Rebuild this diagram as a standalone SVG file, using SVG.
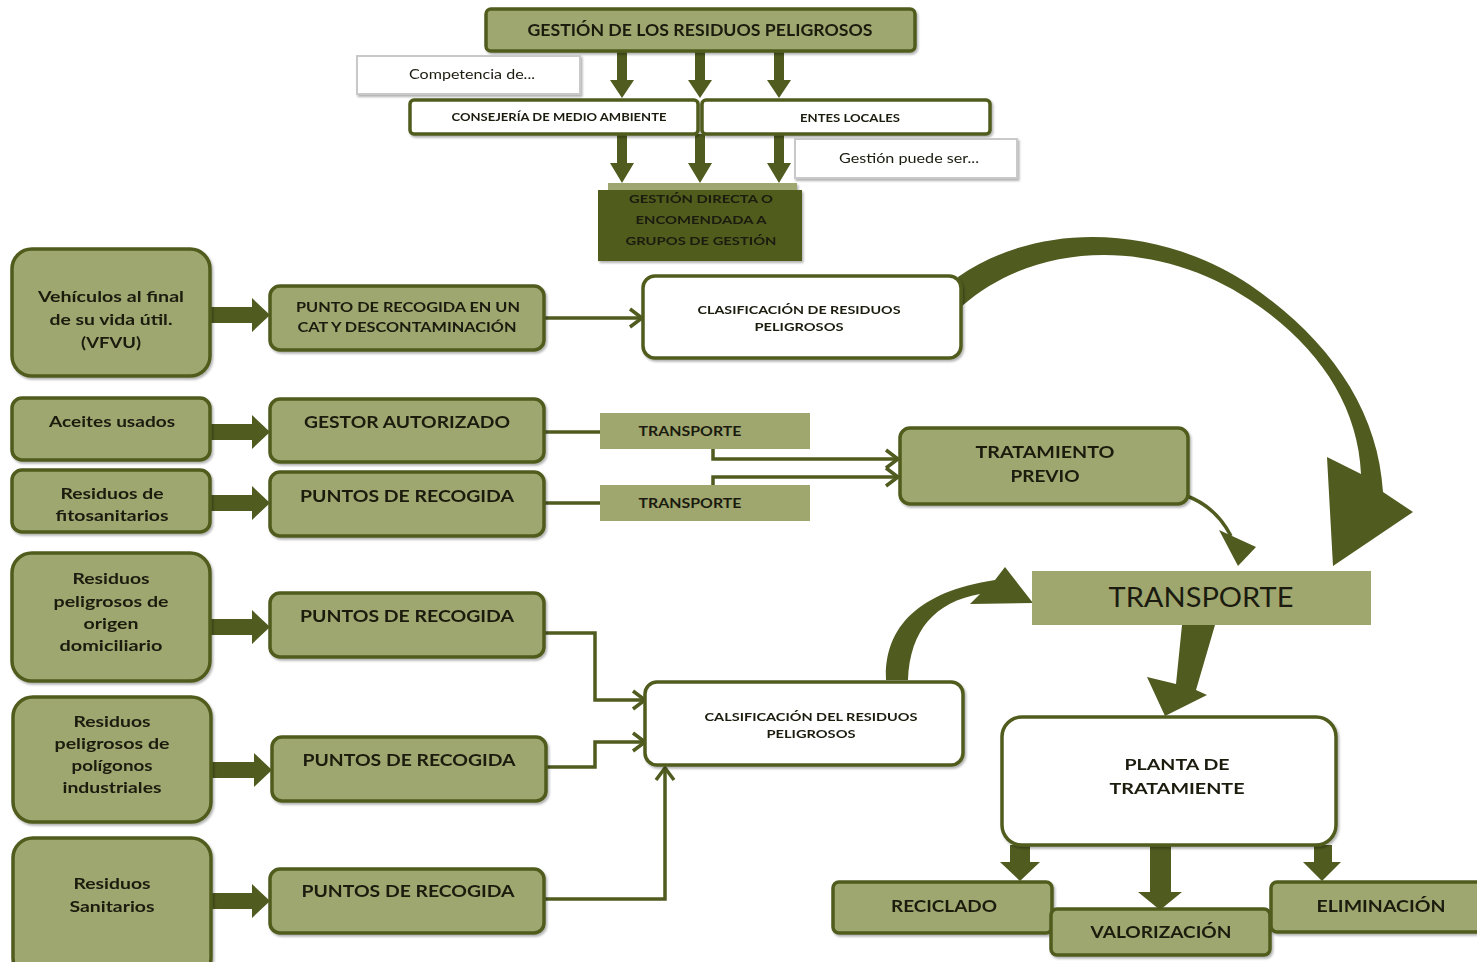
<svg xmlns="http://www.w3.org/2000/svg" width="1477" height="962" viewBox="0 0 1477 962">
  <defs>
    <style>
      .olive { fill: #9fa76f; stroke: #505b1f; stroke-width: 3.5; }
      .white { fill: #ffffff; stroke: #505b1f; stroke-width: 3.5; }
      .note { fill: #ffffff; stroke: #c9c9c9; stroke-width: 2; }
      .flat { fill: #9fa76f; }
      .dark { fill: #505b1f; }
      .t { font-family: Lato, "Liberation Sans", sans-serif; font-weight: 700; fill: #1b1b10; text-anchor: middle; }
      .n { font-family: Lato, "Liberation Sans", sans-serif; font-weight: 400; fill: #1b1b10; text-anchor: middle; }
      .wire { fill: none; stroke: #505b1f; stroke-width: 3.5; }
      .bold { fill: #505b1f; stroke: none; }
    </style>
    <filter id="shadow" x="-10%" y="-10%" width="130%" height="140%">
      <feDropShadow dx="1.5" dy="2" stdDeviation="1.2" flood-color="#000" flood-opacity="0.3"/>
    </filter>
    <marker id="chev" markerUnits="userSpaceOnUse" markerWidth="18" markerHeight="22" refX="15" refY="11" orient="auto">
      <path d="M3 2 L15 11 L3 20" fill="none" stroke="#505b1f" stroke-width="3.5"/>
    </marker>
  </defs>

  <!-- connectors -->
  <g id="connectors">
    <!-- vertical arrows under the title box -->
    <path class="bold" d="M617 51 H627 V80 H634 L622 98 L610 80 H617 Z"/>
    <path class="bold" d="M695 51 H705 V80 H712 L700 98 L688 80 H695 Z"/>
    <path class="bold" d="M774 51 H784 V80 H791 L779 98 L767 80 H774 Z"/>
    <!-- vertical arrows into the management box -->
    <path class="bold" d="M617 134 H627 V163 H634 L622 183 L610 163 H617 Z"/>
    <path class="bold" d="M695 134 H705 V163 H712 L700 183 L688 163 H695 Z"/>
    <path class="bold" d="M774 134 H784 V163 H791 L779 183 L767 163 H774 Z"/>

    <!-- block arrows from waste sources -->
    <path class="bold" d="M210 307 H252 V298 L270 315 L252 332 V323 H210 Z"/>
    <path class="bold" d="M210 424 H252 V415 L270 432 L252 449 V440 H210 Z"/>
    <path class="bold" d="M210 495 H252 V486 L270 503 L252 520 V511 H210 Z"/>
    <path class="bold" d="M210 619 H252 V610 L270 627 L252 644 V635 H210 Z"/>
    <path class="bold" d="M211 762 H254 V753 L272 770 L254 787 V778 H211 Z"/>
    <path class="bold" d="M211 893 H252 V884 L270 901 L252 918 V909 H211 Z"/>

    <!-- thin connectors -->
    <path class="wire" d="M545 318 H642" marker-end="url(#chev)"/>
    <path class="wire" d="M545 432 H600"/>
    <path class="wire" d="M545 503 H600"/>
    <path class="wire" d="M713 449 V459 H898" marker-end="url(#chev)"/>
    <path class="wire" d="M713 485 V477 H898" marker-end="url(#chev)"/>
    <path class="wire" d="M545 633 H595 V700 H645" marker-end="url(#chev)"/>
    <path class="wire" d="M547 767 H595 V742 H645" marker-end="url(#chev)"/>
    <path class="wire" d="M545 899 H665 V768" marker-end="url(#chev)"/>

    <!-- large curved arrow: classification to transport -->
    <path class="bold" d="M958 277 C1040 220 1160 225 1250 285 C1330 340 1378 410 1383 492 L1413 512 L1333 566 L1327 457 L1361 474 C1358 405 1318 345 1250 300 C1160 240 1040 238 962 306 Z"/>
    <!-- pre-treatment to transport -->
    <path class="wire" d="M1187 496 Q1216 507 1231 536" stroke-width="4.5"/>
    <path class="bold" d="M1219 530 L1256 547 L1238 566 Z"/>
    <!-- second classification to transport -->
    <path class="bold" d="M886 680 C884 630 915 592 995 580 L1005 567 L1033 603 L970 604 L980 594 C935 602 910 630 908 680 Z"/>
    <!-- transport to treatment plant -->
    <path class="bold" d="M1182 625 L1215 625 L1196 690 L1207 695 L1165 716 L1147 677 L1176 684 Z"/>
    <!-- treatment plant outputs -->
    <path class="bold" d="M1010 845 H1030 V862 H1040 L1020 881 L1000 862 H1010 Z"/>
    <path class="bold" d="M1150 845 H1171 V892 H1182 L1160 910 L1138 892 H1150 Z"/>
    <path class="bold" d="M1314 845 H1332 V862 H1341 L1322 881 L1303 862 H1314 Z"/>
  </g>

  <!-- top management chain -->
  <g id="gestion-residuos" filter="url(#shadow)">
    <rect class="olive" x="486" y="9" width="429" height="42" rx="5"/>
    <text class="t" x="700" y="36" font-size="17" textLength="345" lengthAdjust="spacingAndGlyphs">GESTIÓN DE LOS RESIDUOS PELIGROSOS</text>
  </g>
  <g id="competencia" filter="url(#shadow)">
    <rect class="note" x="357" y="56" width="223" height="38"/>
    <text class="n" x="472" y="79" font-size="12.5" textLength="126" lengthAdjust="spacingAndGlyphs">Competencia de...</text>
  </g>
  <g id="consejeria" filter="url(#shadow)">
    <rect class="white" x="410" y="100" width="288" height="34" rx="4"/>
    <text class="t" x="559" y="121" font-size="11" textLength="215" lengthAdjust="spacingAndGlyphs">CONSEJERÍA DE MEDIO AMBIENTE</text>
  </g>
  <g id="entes-locales" filter="url(#shadow)">
    <rect class="white" x="702" y="100" width="288" height="34" rx="4"/>
    <text class="t" x="850" y="122" font-size="11" textLength="100" lengthAdjust="spacingAndGlyphs">ENTES LOCALES</text>
  </g>
  <g id="gestion-puede" filter="url(#shadow)">
    <rect class="note" x="795" y="139" width="222" height="39"/>
    <text class="n" x="909" y="163" font-size="12.5" textLength="140" lengthAdjust="spacingAndGlyphs">Gestión puede ser...</text>
  </g>
  <g id="gestion-directa" filter="url(#shadow)">
    <rect class="flat" x="608" y="183" width="189" height="8"/>
    <rect class="dark" x="598" y="190" width="204" height="71"/>
    <text class="t" x="701" y="203" font-size="12" textLength="144" lengthAdjust="spacingAndGlyphs">GESTIÓN DIRECTA O</text>
    <text class="t" x="701" y="224" font-size="12" textLength="131" lengthAdjust="spacingAndGlyphs">ENCOMENDADA A</text>
    <text class="t" x="701" y="245" font-size="12" textLength="151" lengthAdjust="spacingAndGlyphs">GRUPOS DE GESTIÓN</text>
  </g>

  <!-- waste sources -->
  <g id="vfvu" filter="url(#shadow)">
    <rect class="olive" x="12" y="249" width="198" height="127" rx="20"/>
    <text class="t" x="111" y="302" font-size="16" textLength="146" lengthAdjust="spacingAndGlyphs">Vehículos al final</text>
    <text class="t" x="111" y="325" font-size="16" textLength="123" lengthAdjust="spacingAndGlyphs">de su vida útil.</text>
    <text class="t" x="111" y="348" font-size="16" textLength="60" lengthAdjust="spacingAndGlyphs">(VFVU)</text>
  </g>
  <g id="aceites" filter="url(#shadow)">
    <rect class="olive" x="12" y="398" width="198" height="62" rx="10"/>
    <text class="t" x="112" y="427" font-size="16" textLength="126" lengthAdjust="spacingAndGlyphs">Aceites usados</text>
  </g>
  <g id="fitosanitarios" filter="url(#shadow)">
    <rect class="olive" x="12" y="470" width="198" height="62" rx="10"/>
    <text class="t" x="112" y="499" font-size="16" textLength="103" lengthAdjust="spacingAndGlyphs">Residuos de</text>
    <text class="t" x="112" y="521" font-size="16" textLength="113" lengthAdjust="spacingAndGlyphs">fitosanitarios</text>
  </g>
  <g id="domiciliario" filter="url(#shadow)">
    <rect class="olive" x="12" y="553" width="198" height="128" rx="20"/>
    <text class="t" x="111" y="584" font-size="16" textLength="77" lengthAdjust="spacingAndGlyphs">Residuos</text>
    <text class="t" x="111" y="607" font-size="16" textLength="115" lengthAdjust="spacingAndGlyphs">peligrosos de</text>
    <text class="t" x="111" y="629" font-size="16" textLength="55" lengthAdjust="spacingAndGlyphs">origen</text>
    <text class="t" x="111" y="651" font-size="16" textLength="103" lengthAdjust="spacingAndGlyphs">domiciliario</text>
  </g>
  <g id="industriales" filter="url(#shadow)">
    <rect class="olive" x="13" y="697" width="198" height="125" rx="20"/>
    <text class="t" x="112" y="727" font-size="16" textLength="77" lengthAdjust="spacingAndGlyphs">Residuos</text>
    <text class="t" x="112" y="749" font-size="16" textLength="115" lengthAdjust="spacingAndGlyphs">peligrosos de</text>
    <text class="t" x="112" y="771" font-size="16" textLength="81" lengthAdjust="spacingAndGlyphs">polígonos</text>
    <text class="t" x="112" y="793" font-size="16" textLength="99" lengthAdjust="spacingAndGlyphs">industriales</text>
  </g>
  <g id="sanitarios" filter="url(#shadow)">
    <rect class="olive" x="13" y="838" width="198" height="140" rx="20"/>
    <text class="t" x="112" y="889" font-size="16" textLength="77" lengthAdjust="spacingAndGlyphs">Residuos</text>
    <text class="t" x="112" y="912" font-size="16" textLength="85" lengthAdjust="spacingAndGlyphs">Sanitarios</text>
  </g>

  <!-- collection points -->
  <g id="punto-cat" filter="url(#shadow)">
    <rect class="olive" x="270" y="286" width="274" height="64" rx="10"/>
    <text class="t" x="408" y="312" font-size="14" textLength="224" lengthAdjust="spacingAndGlyphs">PUNTO DE RECOGIDA EN UN</text>
    <text class="t" x="407" y="332" font-size="14" textLength="219" lengthAdjust="spacingAndGlyphs">CAT Y DESCONTAMINACIÓN</text>
  </g>
  <g id="gestor-autorizado" filter="url(#shadow)">
    <rect class="olive" x="270" y="399" width="274" height="63" rx="10"/>
    <text class="t" x="407" y="428" font-size="17" textLength="206" lengthAdjust="spacingAndGlyphs">GESTOR AUTORIZADO</text>
  </g>
  <g id="puntos-fito" filter="url(#shadow)">
    <rect class="olive" x="270" y="472" width="274" height="64" rx="10"/>
    <text class="t" x="407" y="502" font-size="17" textLength="214" lengthAdjust="spacingAndGlyphs">PUNTOS DE RECOGIDA</text>
  </g>
  <g id="puntos-domiciliario" filter="url(#shadow)">
    <rect class="olive" x="270" y="593" width="274" height="64" rx="10"/>
    <text class="t" x="407" y="622" font-size="17" textLength="214" lengthAdjust="spacingAndGlyphs">PUNTOS DE RECOGIDA</text>
  </g>
  <g id="puntos-industriales" filter="url(#shadow)">
    <rect class="olive" x="272" y="737" width="274" height="64" rx="10"/>
    <text class="t" x="409" y="766" font-size="17" textLength="213" lengthAdjust="spacingAndGlyphs">PUNTOS DE RECOGIDA</text>
  </g>
  <g id="puntos-sanitarios" filter="url(#shadow)">
    <rect class="olive" x="270" y="869" width="274" height="64" rx="10"/>
    <text class="t" x="408" y="897" font-size="17" textLength="213" lengthAdjust="spacingAndGlyphs">PUNTOS DE RECOGIDA</text>
  </g>

  <!-- classification and transport -->
  <g id="clasificacion" filter="url(#shadow)">
    <rect class="white" x="643" y="276" width="318" height="82" rx="12"/>
    <text class="t" x="799" y="314" font-size="11.5" textLength="203" lengthAdjust="spacingAndGlyphs">CLASIFICACIÓN DE RESIDUOS</text>
    <text class="t" x="799" y="331" font-size="11.5" textLength="89" lengthAdjust="spacingAndGlyphs">PELIGROSOS</text>
  </g>
  <g id="transporte-aceites">
    <rect class="flat" x="600" y="413" width="210" height="36"/>
    <text class="t" x="690" y="436" font-size="14" textLength="103" lengthAdjust="spacingAndGlyphs">TRANSPORTE</text>
  </g>
  <g id="transporte-fito">
    <rect class="flat" x="600" y="485" width="210" height="36"/>
    <text class="t" x="690" y="508" font-size="14" textLength="103" lengthAdjust="spacingAndGlyphs">TRANSPORTE</text>
  </g>
  <g id="tratamiento-previo" filter="url(#shadow)">
    <rect class="olive" x="900" y="428" width="288" height="76" rx="10"/>
    <text class="t" x="1045" y="458" font-size="17" textLength="139" lengthAdjust="spacingAndGlyphs">TRATAMIENTO</text>
    <text class="t" x="1045" y="482" font-size="17" textLength="69" lengthAdjust="spacingAndGlyphs">PREVIO</text>
  </g>
  <g id="transporte">
    <rect class="flat" x="1032" y="571" width="339" height="54"/>
    <text class="n" x="1201" y="607" font-size="27" textLength="185" lengthAdjust="spacingAndGlyphs">TRANSPORTE</text>
  </g>
  <g id="calsificacion" filter="url(#shadow)">
    <rect class="white" x="645" y="682" width="318" height="83" rx="12"/>
    <text class="t" x="811" y="721" font-size="11" textLength="213" lengthAdjust="spacingAndGlyphs">CALSIFICACIÓN DEL RESIDUOS</text>
    <text class="t" x="811" y="738" font-size="11" textLength="89" lengthAdjust="spacingAndGlyphs">PELIGROSOS</text>
  </g>

  <!-- treatment plant and outputs -->
  <g id="planta" filter="url(#shadow)">
    <rect class="white" x="1002" y="717" width="334" height="128" rx="20"/>
    <text class="t" x="1177" y="770" font-size="16" textLength="105" lengthAdjust="spacingAndGlyphs">PLANTA DE</text>
    <text class="t" x="1177" y="794" font-size="16" textLength="135" lengthAdjust="spacingAndGlyphs">TRATAMIENTE</text>
  </g>
  <g id="reciclado" filter="url(#shadow)">
    <rect class="olive" x="833" y="882" width="219" height="51" rx="6"/>
    <text class="t" x="944" y="912" font-size="17" textLength="106" lengthAdjust="spacingAndGlyphs">RECICLADO</text>
  </g>
  <g id="valorizacion" filter="url(#shadow)">
    <rect class="olive" x="1051" y="909" width="219" height="46" rx="6"/>
    <text class="t" x="1161" y="938" font-size="17" textLength="141" lengthAdjust="spacingAndGlyphs">VALORIZACIÓN</text>
  </g>
  <g id="eliminacion" filter="url(#shadow)">
    <rect class="olive" x="1271" y="882" width="220" height="50" rx="6"/>
    <text class="t" x="1381" y="912" font-size="17" textLength="129" lengthAdjust="spacingAndGlyphs">ELIMINACIÓN</text>
  </g>
</svg>
